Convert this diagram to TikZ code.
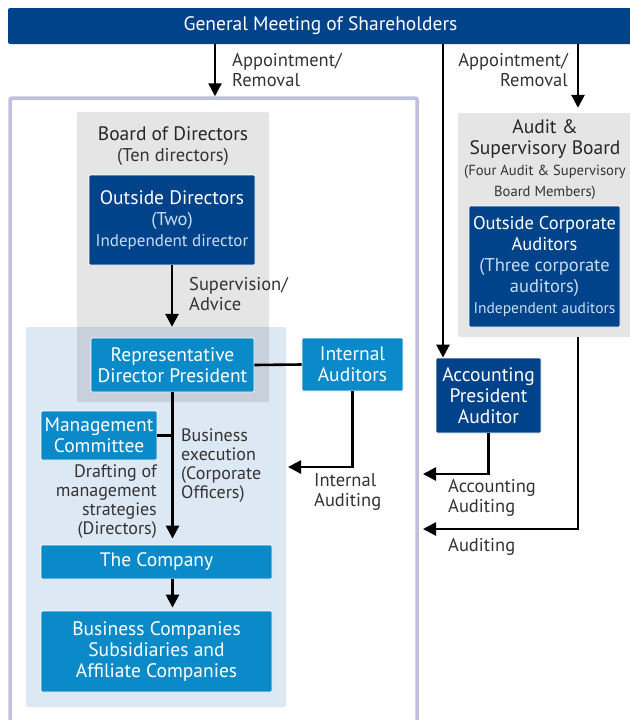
\documentclass[tikz,border=0pt]{standalone}
\usepackage{fontspec}
\setmainfont{PT Sans}
\usetikzlibrary{arrows.meta, positioning}

\definecolor{navy}{HTML}{00438A}
\definecolor{midblue}{HTML}{0A8AC8}
\definecolor{paleblue}{HTML}{DDE8F5}
\definecolor{boxgray}{HTML}{E5E5E5}
\definecolor{overlapgray}{HTML}{C8D1DB}
\definecolor{framelav}{HTML}{BFC0DD}
\definecolor{softtext}{HTML}{C8DDF0}
\definecolor{labeltext}{HTML}{333333}

\newcommand{\bigtxt}{\fontsize{19.5}{21}\selectfont}
\newcommand{\midtxt}{\fontsize{18.5}{21}\selectfont}
\newcommand{\smalltxt}{\fontsize{15.5}{20}\selectfont}
\newcommand{\tinytxt}{\fontsize{14.6}{20}\selectfont}
\newcommand{\lbltxt}{\fontsize{18.5}{20}\selectfont}

\begin{document}
\begin{tikzpicture}[x=1pt, y=-1pt,
    box/.style={draw=white, line width=0.8pt, text=white, align=center,
      inner sep=0pt, rounded corners=1pt, font=\bigtxt},
    darkbox/.style={box, fill=navy},
    midbox/.style={box, fill=midblue},
    graybox/.style={fill=boxgray, rounded corners=2pt, inner sep=0pt},
    title/.style={align=center, inner sep=0pt, font=\bigtxt, text=black!85},
    lbl/.style={text=labeltext, font=\lbltxt, inner sep=0pt},
    arr/.style={line width=2.6pt, -{Triangle[length=13pt,width=13pt]}},
    lnk/.style={line width=2.6pt}]

  \useasboundingbox (0,0) rectangle (629,720);

  % shareholders
  \node[fill=navy, text=white, rounded corners=2pt, minimum width=625pt,
    minimum height=36pt, font=\fontsize{19.5}{21}\selectfont] (gms) at (320.5,26)
    {General Meeting of Shareholders};

  % company frame
  \node[draw=framelav, line width=3.5pt, rounded corners=2pt,
    minimum width=407pt, minimum height=642pt] (grp) at (213.5,419) {};

  % board of directors
  \node[graybox, minimum width=192pt, minimum height=290pt] (bod) at (173,257) {};
  \node[title] (bodt) at (173,146) {Board of Directors\\
    \textcolor{labeltext}{\midtxt (Ten directors)}};

  % execution area
  \node[fill=paleblue, rounded corners=2pt, minimum width=260pt,
    minimum height=380pt] (exec) at (156,517) {};
  \fill[overlapgray] (bod.south west) rectangle (exec.north -| bod.east);

  \node[darkbox, minimum width=166pt, minimum height=90pt] (od) at (172,220)
    {Outside Directors\\
     \textcolor{softtext}{\midtxt (Two)}\\
     \textcolor{softtext}{\fontsize{17}{20}\selectfont Independent director}};

  \node[midbox, minimum width=163pt, minimum height=54pt] (rep) at (172.5,365)
    {Representative\\Director President};
  \node[midbox, minimum width=101pt, minimum height=53pt] (ia) at (352.5,364.5)
    {Internal\\Auditors};
  \node[midbox, minimum width=116pt, minimum height=49pt] (mc) at (99,435.5)
    {Management\\Committee};
  \node[midbox, minimum width=231pt, minimum height=34pt] (tc) at (156.5,562)
    {The Company};
  \node[midbox, minimum width=231pt, minimum height=81pt] (bc) at (156.5,651.5)
    {Business Companies\\Subsidiaries and\\Affiliate Companies};

  % audit & supervisory board
  \node[graybox, minimum width=176pt, minimum height=224pt] (audit) at (546,225) {};
  \node[title] (auditt) at (545,160) {Audit \&\\Supervisory Board\\
    \textcolor{labeltext}{\tinytxt (Four Audit \& Supervisory}\\
    \textcolor{labeltext}{\tinytxt Board Members)}};
  \node[darkbox, minimum width=151pt, minimum height=121pt, font=\midtxt] (oca)
    at (544.5,266.5)
    {Outside Corporate\\Auditors\\
     \textcolor{softtext}{(Three corporate}\\
     \textcolor{softtext}{auditors)}\\
     \textcolor{softtext}{\smalltxt Independent auditors}};

  \node[darkbox, minimum width=105pt, minimum height=75pt] (acct) at (488.5,395.5)
    {Accounting\\President\\Auditor};

  % labels
  \node[lbl, anchor=west, align=left] (lapp) at (232,70) {Appointment/\\Removal};
  \node[lbl, anchor=east, align=right] (rapp) at (568,70) {Appointment/\\Removal};
  \node[lbl, anchor=west, align=left] (lsup) at (189,294) {Supervision/\\Advice};
  \node[lbl, anchor=west, align=left, font=\fontsize{18}{19}\selectfont] (lexe)
    at (181,466) {Business\\execution\\(Corporate\\Officers)};
  \node[lbl, anchor=east, align=right, font=\fontsize{18}{19}\selectfont] (ldra)
    at (157,502) {Drafting of\\management\\strategies\\(Directors)};
  \node[lbl, anchor=west, align=left] (lint) at (314,492) {Internal\\Auditing};
  \node[lbl, anchor=west, align=left] (lacc) at (448,498) {Accounting\\Auditing};
  \node[lbl, anchor=west, align=left] (laud) at (448,547) {Auditing};

  % connectors
  \coordinate (xa) at (215,0);
  \coordinate (xb) at (443,0);
  \coordinate (xc) at (578,0);
  \coordinate (iatip) at (288,467);
  \coordinate (acctip) at (423,474);
  \coordinate (audtip) at (423,529);

  \draw[arr] (gms.south -| xa) -- (grp.north -| xa);
  \draw[arr] (gms.south -| xb) -- (acct.north -| xb);
  \draw[arr, shorten >=5pt] (gms.south -| xc) -- (audit.north -| xc);
  \draw[arr] (od.south) -- (exec.north -| od.south);
  \draw[lnk] (rep.east) -- (ia.west);
  \draw[lnk] (mc.east) -- (mc.east -| rep.south);
  \draw[arr, shorten >=6pt] (rep.south) -- (rep.south |- tc.north);
  \draw[arr, shorten >=3pt] (tc.south -| rep.south) -- (rep.south |- bc.north);
  \draw[arr] (ia.south) |- (iatip);
  \draw[arr] (acct.south) |- (acctip);
  \draw[arr] (audit.south -| xc) |- (audtip);
\end{tikzpicture}
\end{document}
